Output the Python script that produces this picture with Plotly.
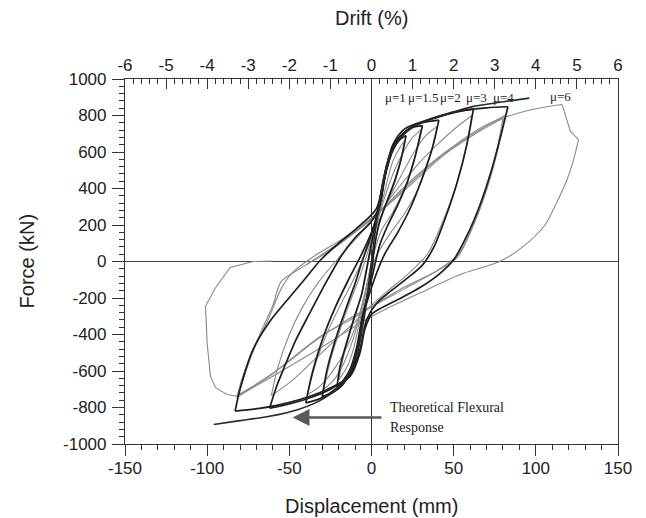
import plotly.graph_objects as go

# ---------------- data (displacement mm, force kN) ----------------
theory = [(-96, -893), (-80, -872), (-62, -848), (-45, -812), (-32, -765), (-22, -705), (-14, -620),
          (-8, -480), (-4, -280), (0, 0), (4, 280), (8, 480), (14, 630), (22, 715), (34, 775),
          (50, 820), (62, 850), (80, 875), (96, 895)]

# first cycles (black)
mu1_down = [(21, 690), (18, 560), (14, 440), (9, 320), (5, 220), (2, 90), (0, -60), (-3, -200),
            (-6, -320), (-9, -470), (-13, -590), (-17, -650), (-21, -686)]
mu1_up = [(-21, -686), (-19, -570), (-15, -440), (-11, -320), (-6, -180), (-3, -40), (0, 100),
          (3, 230), (6, 360), (9, 500), (13, 610), (17, 665), (21, 690)]
mu15_down = [(31, 745), (27, 590), (22, 440), (16, 310), (10, 200), (5, 90), (1, -60), (-3, -210),
             (-6, -330), (-8, -470), (-12, -600), (-18, -680), (-24, -720), (-30, -740)]
mu15_up = [(-30, -740), (-27, -590), (-22, -430), (-16, -270), (-10, -120), (-5, 20), (0, 150),
           (4, 280), (8, 460), (13, 610), (19, 700), (25, 735), (31, 745)]
mu2_down = [(41, 775), (37, 620), (31, 460), (24, 300), (16, 160), (8, 40), (2, -90), (-3, -230),
            (-6, -350), (-9, -490), (-13, -610), (-22, -700), (-31, -750), (-40, -775)]
mu2_up = [(-40, -775), (-36, -610), (-30, -430), (-22, -250), (-14, -100), (-6, 40), (0, 160),
          (5, 300), (9, 500), (14, 640), (22, 720), (31, 760), (41, 775)]
mu3_down = [(62, 835), (58, 640), (52, 430), (45, 240), (38, 80), (31, -20), (22, -90),
            (12, -160), (3, -230), (-3, -320), (-7, -480), (-13, -620), (-25, -700), (-40, -755),
            (-52, -785), (-62, -804)]
mu3_up = [(-62, -804), (-58, -690), (-54, -600), (-46, -430), (-38, -290), (-28, -120), (-18, 36),
          (-10, 130), (0, 220), (5, 310), (9, 520), (15, 660), (25, 740), (40, 790), (52, 820),
          (62, 835)]
mu4_down = [(83, 848), (79, 700), (73, 500), (66, 310), (58, 140), (50, 10), (41, -70), (30, -140),
            (18, -200), (7, -250), (0, -290), (-4, -370), (-7, -500), (-13, -628), (-27, -701),
            (-51, -775), (-68, -805), (-83, -820)]
mu4_up = [(-83, -820), (-80, -700), (-72, -480), (-62, -330), (-51, -208), (-40, -90), (-31, 8),
          (-20, 100), (-8, 190), (3, 290), (8, 480), (13, 640), (20, 725), (34, 775), (54, 825),
          (70, 842), (83, 848)]

# repeated cycles (grey)
g1_down = [(20, 660), (17, 520), (13, 400), (8, 290), (4, 180), (1, 50), (-2, -100), (-5, -240),
           (-8, -360), (-11, -480), (-15, -580), (-20, -650)]
g1_up = [(-20, -650), (-17, -520), (-13, -390), (-9, -270), (-5, -140), (-2, -10), (1, 120),
         (5, 270), (9, 420), (13, 550), (17, 620), (20, 660)]
g15_down = [(30, 720), (26, 560), (20, 400), (13, 270), (6, 170), (1, 30), (-3, -130), (-7, -290),
            (-11, -420), (-17, -560), (-23, -650), (-29, -700)]
g15_up = [(-29, -700), (-25, -540), (-19, -370), (-13, -220), (-7, -80), (-2, 60), (3, 200),
          (8, 350), (14, 500), (20, 610), (25, 680), (30, 720)]
g2_down = [(40, 740), (35, 560), (28, 390), (20, 260), (11, 150), (3, 30), (-3, -140), (-8, -310),
           (-14, -450), (-22, -580), (-31, -680), (-39, -730)]
g2_up = [(-39, -730), (-34, -560), (-27, -390), (-19, -240), (-11, -100), (-4, 40), (3, 190),
         (10, 330), (18, 470), (26, 600), (33, 690), (40, 740)]
g3_down = [(61, 800), (57, 600), (51, 400), (43, 210), (34, 40), (22, -70), (10, -160), (0, -240),
           (-10, -330), (-22, -430), (-35, -540), (-48, -650), (-61, -735)]
g3_up = [(-61, -735), (-57, -580), (-50, -400), (-42, -250), (-32, -110), (-20, 20), (-8, 140),
         (4, 260), (16, 400), (28, 530), (40, 640), (51, 730), (61, 800)]
g4a_down = [(81, 800), (77, 620), (71, 420), (63, 220), (53, 40), (40, -50), (20, -150), (0, -250),
            (-15, -330), (-31, -409), (-47, -520), (-62, -628), (-82, -745)]
g4a_up = [(-82, -745), (-78, -620), (-71, -470), (-62, -300), (-55, -150), (-48, -60), (-35, 29),
          (-15, 139), (4, 267), (20, 400), (40, 560), (60, 690), (81, 800)]
g4b_down = [(80, 785), (76, 600), (70, 400), (62, 200), (52, 20), (38, -60), (20, -140), (3, -230),
            (-15, -320), (-35, -440), (-55, -580), (-70, -670), (-81, -730)]
g4b_up = [(-81, -730), (-76, -590), (-68, -400), (-60, -240), (-55, -110), (-40, -20), (-25, 60),
          (-10, 160), (5, 270), (25, 430), (45, 590), (65, 710), (80, 785)]

# final cycle (grey)
mu6_load = [(-40, -20), (-20, 100), (0, 230), (20, 410), (45, 600), (70, 750), (90, 815),
            (105, 845), (116, 860)]
mu6_peak = [(116, 860), (121, 714), (126, 668)]
mu6_unload = [(126, 668), (123, 560), (119, 449), (112, 310), (105, 193), (92, 80), (78, 0),
              (54, -71), (30, -170), (10, -255), (-5, -327), (-25, -440), (-50, -575),
              (-70, -680), (-82, -738)]
mu6_end = [(-82, -738), (-88, -729), (-95, -690), (-98, -628), (-100, -450), (-101, -244),
           (-95, -145), (-86, -33), (-72, 0), (-60, 2)]

mu_labels = ["μ=1", "μ=1.5", "μ=2", "μ=3", "μ=4", "μ=6"]
mu_label_x = [14.6, 31.7, 48.0, 64.0, 80.5, 115.0]
mu_label_y = [896, 896, 896, 896, 896, 905]

arrow_tail = (7, -855)
arrow_head = (-48, -855)
note_lines = ["Theoretical Flexural", "Response"]
note_x = [10, 10]
note_y = [-800, -910]

x_ticks = [-150, -100, -50, 0, 50, 100, 150]
x_ticktext = ["-150", "-100", "-50", "0", "50", "100", "150"]
y_ticks = [-1000, -800, -600, -400, -200, 0, 200, 400, 600, 800, 1000]
y_ticktext = ["-1000", "-800", "-600", "-400", "-200", "0", "200", "400", "600", "800", "1000"]
drift_ticks = [-6, -5, -4, -3, -2, -1, 0, 1, 2, 3, 4, 5, 6]
drift_ticktext = ["-6", "-5", "-4", "-3", "-2", "-1", "0", "1", "2", "3", "4", "5", "6"]

# ---------------- figure ----------------
BLACK = "#1e1e1e"
GREY = "#8a8a8a"
FONT = "Liberation Sans, Arial, sans-serif"
SERIF = "Liberation Serif, Times New Roman, serif"

fig = go.Figure()


def add(points, color, width, shape="spline"):
    xs = [p[0] for p in points]
    ys = [p[1] for p in points]
    fig.add_trace(go.Scatter(x=xs, y=ys, mode="lines",
                             line=dict(color=color, width=width, shape=shape, smoothing=0.8),
                             hoverinfo="skip", showlegend=False))


for branch in [g1_down, g1_up, g15_down, g15_up, g2_down, g2_up, g3_down, g3_up,
               g4a_down, g4a_up, g4b_down, g4b_up, mu6_load, mu6_unload]:
    add(branch, GREY, 1.1)
add(mu6_peak, GREY, 1.1, "linear")
add(mu6_end, GREY, 1.1, "linear")

for branch in [mu1_down, mu1_up, mu15_down, mu15_up, mu2_down, mu2_up, mu3_down, mu3_up,
               mu4_down, mu4_up]:
    add(branch, BLACK, 1.7)

add(theory, "#2a2a2a", 1.6)

# invisible trace to carry the top (drift) axis
fig.add_trace(go.Scatter(x=[drift_ticks[0], drift_ticks[-1]], y=[None, None], xaxis="x2",
                         mode="lines", hoverinfo="skip", showlegend=False))

annotations = []
for lab, lx, ly in zip(mu_labels, mu_label_x, mu_label_y):
    annotations.append(dict(x=lx, y=ly, xref="x", yref="y", text=lab, showarrow=False,
                            font=dict(family=SERIF, size=13, color="#222"),
                            xanchor="center", yanchor="middle"))
for txt, tx, ty in zip(note_lines, note_x, note_y):
    annotations.append(dict(x=tx, y=ty, xref="x", yref="y", text=txt, showarrow=False,
                            font=dict(family=SERIF, size=14, color="#222"),
                            xanchor="left", yanchor="middle"))
annotations.append(dict(x=arrow_head[0], y=arrow_head[1], ax=arrow_tail[0], ay=arrow_tail[1],
                        xref="x", yref="y", axref="x", ayref="y", text="", showarrow=True,
                        arrowhead=2, arrowsize=1.3, arrowwidth=2.6, arrowcolor="#5a5a5a"))
# axis titles
annotations.append(dict(x=0.5, y=1.167, xref="paper", yref="paper", text="Drift (%)",
                        showarrow=False, font=dict(family=FONT, size=20, color="#222"),
                        xanchor="center", yanchor="middle"))
annotations.append(dict(x=0.5, y=-0.17, xref="paper", yref="paper", text="Displacement (mm)",
                        showarrow=False, font=dict(family=FONT, size=20, color="#222"),
                        xanchor="center", yanchor="middle"))
annotations.append(dict(x=-0.199, y=0.5, xref="paper", yref="paper", text="Force (kN)",
                        showarrow=False, textangle=-90,
                        font=dict(family=FONT, size=20, color="#222"),
                        xanchor="center", yanchor="middle"))

tickfont = dict(family=FONT, size=17, color="#222")

# the page body adds an 8 px offset, so the figure is 8 px smaller than the window
fig.update_layout(
    width=638, height=510,
    margin=dict(l=117, r=28, t=71, b=74, autoexpand=False),
    paper_bgcolor="white", plot_bgcolor="white",
    showlegend=False,
    annotations=annotations,
    xaxis=dict(range=[x_ticks[0], x_ticks[-1]], tickvals=x_ticks, ticktext=x_ticktext,
               ticks="outside", ticklen=11,
               tickwidth=1, tickcolor="#333", showline=True, linecolor="#333", linewidth=1.2,
               showgrid=False, zeroline=True, zerolinecolor="#333", zerolinewidth=1,
               tickfont=tickfont, ticklabelstandoff=-3,
               minor=dict(dtick=10, ticks="outside", ticklen=5, tickcolor="#333", showgrid=False)),
    xaxis2=dict(range=[drift_ticks[0], drift_ticks[-1]], tickvals=drift_ticks,
                ticktext=drift_ticktext, overlaying="x",
                side="top", ticks="inside", ticklen=10, tickwidth=1, tickcolor="#333",
                showline=True, linecolor="#333", linewidth=1.2, showgrid=False, zeroline=False,
                tickfont=tickfont, ticklabelstandoff=0,
                minor=dict(dtick=0.2, ticks="inside", ticklen=5, tickcolor="#333",
                           showgrid=False)),
    yaxis=dict(range=[y_ticks[0], y_ticks[-1]], tickvals=y_ticks, ticktext=y_ticktext,
               ticks="outside", ticklen=12,
               tickwidth=1, tickcolor="#333", showline=True, linecolor="#333", linewidth=1.2,
               mirror=True, showgrid=False, zeroline=True, zerolinecolor="#444",
               zerolinewidth=1, tickfont=tickfont, ticklabelstandoff=2,
               minor=dict(dtick=40, ticks="outside", ticklen=5, tickcolor="#333",
                          showgrid=False)),
)

fig.write_html("out.html")
